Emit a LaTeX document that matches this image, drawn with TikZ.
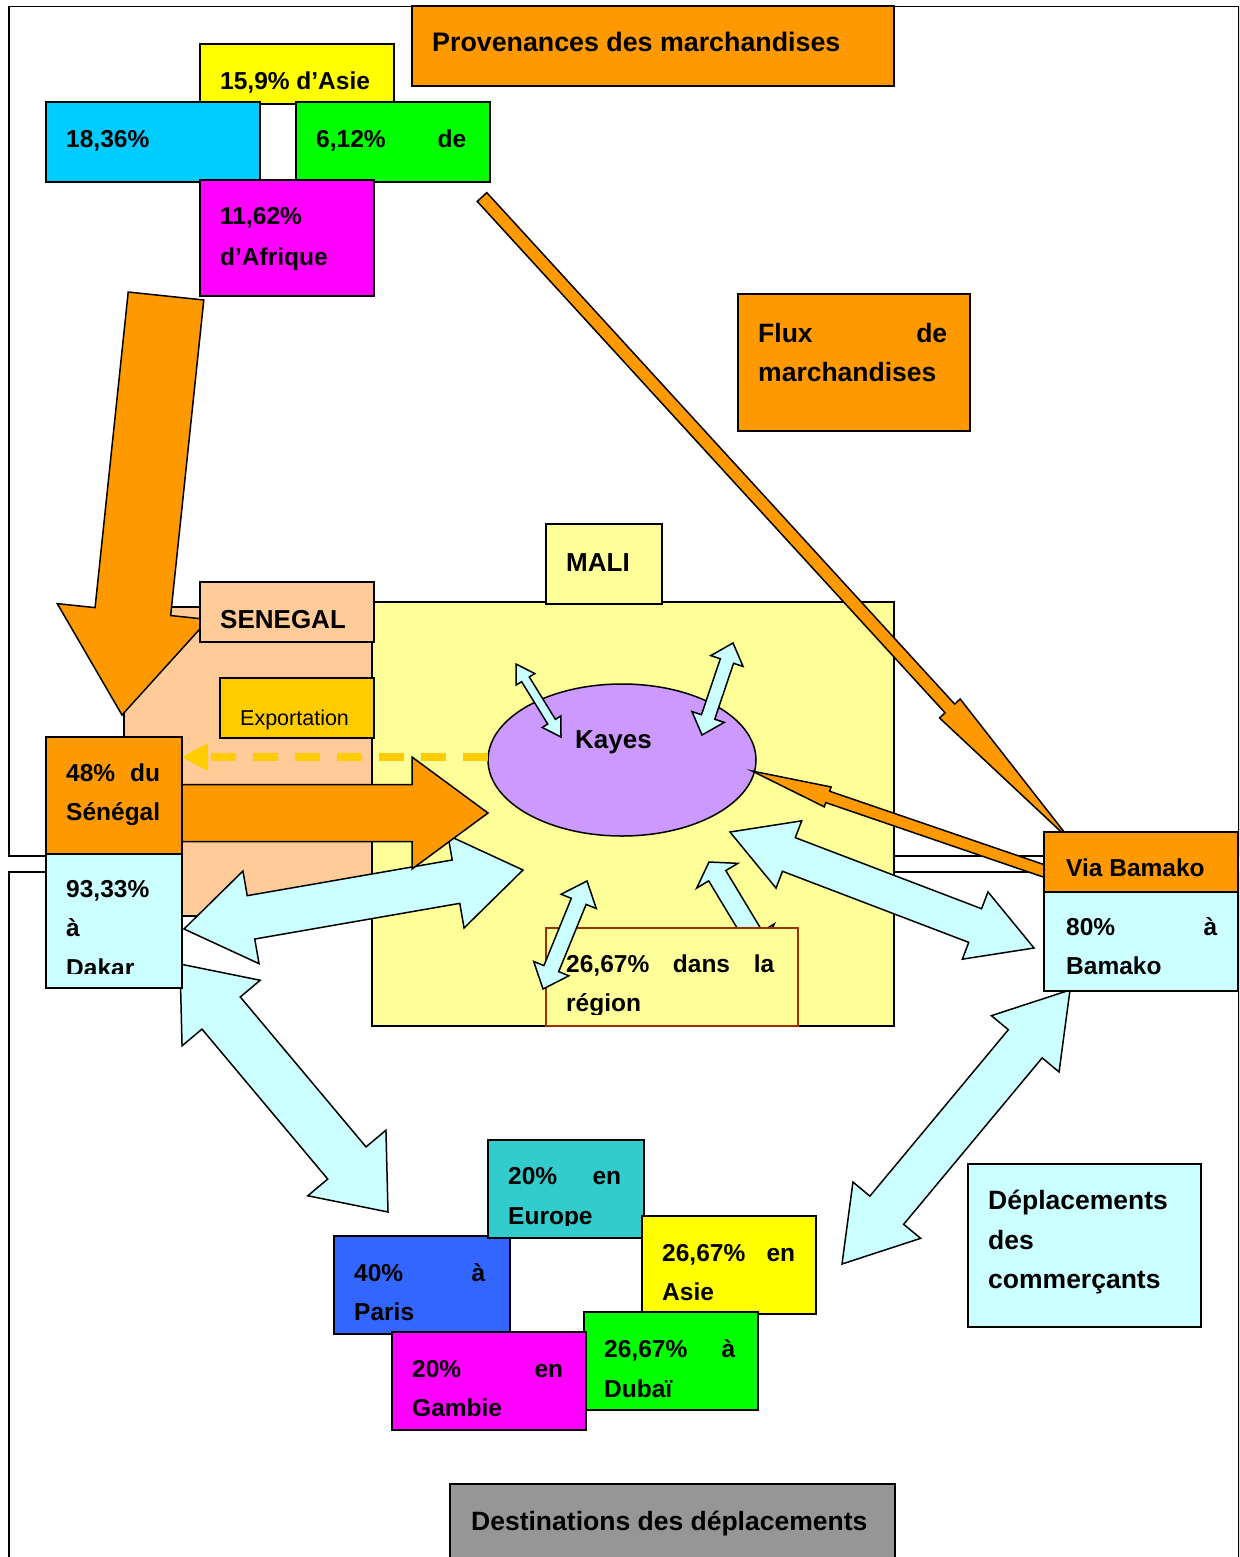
\documentclass[tikz,border=0pt]{standalone}
\usepackage{fontspec}
\setmainfont{Liberation Sans}
\usetikzlibrary{calc,shapes.geometric}
\definecolor{cOrange}{HTML}{FF9900}
\definecolor{cYellow}{HTML}{FFFF00}
\definecolor{cSky}{HTML}{00CCFF}
\definecolor{cGreen}{HTML}{00FF00}
\definecolor{cMagenta}{HTML}{FF00FF}
\definecolor{cPeach}{HTML}{FFCC99}
\definecolor{cLightYellow}{HTML}{FFFF99}
\definecolor{cGold}{HTML}{FFCC00}
\definecolor{cLightCyan}{HTML}{CCFFFF}
\definecolor{cLavender}{HTML}{CC99FF}
\definecolor{cTeal}{HTML}{33CCCC}
\definecolor{cBlue}{HTML}{3366FF}
\definecolor{cGray}{HTML}{969696}
\definecolor{cBrown}{HTML}{993300}
% double-headed block arrow: style, A, B, shaft half width, head half width, head length
\newcommand\dblarrow[6]{%
\draw[#1] ($(#2)!#6!(#3)!#5!90:(#3)$) -- (#2) -- ($(#2)!#6!(#3)!#5!-90:(#3)$)
 -- ($(#2)!#6!(#3)!#4!-90:(#3)$) -- ($(#3)!#6!(#2)!#4!90:(#2)$)
 -- ($(#3)!#6!(#2)!#5!90:(#2)$) -- (#3) -- ($(#3)!#6!(#2)!#5!-90:(#2)$)
 -- ($(#3)!#6!(#2)!#4!-90:(#2)$) -- ($(#2)!#6!(#3)!#4!90:(#3)$) -- cycle;}
% single block arrow: style, tail, tip, shaft half width, head half width, head length
\newcommand\sglarrow[6]{%
\draw[#1] ($(#2)!#4!90:(#3)$) -- ($(#3)!#6!(#2)!#4!-90:(#2)$)
 -- ($(#3)!#6!(#2)!#5!-90:(#2)$) -- (#3) -- ($(#3)!#6!(#2)!#5!90:(#2)$)
 -- ($(#3)!#6!(#2)!#4!90:(#2)$) -- ($(#2)!#4!-90:(#3)$) -- cycle;}
\begin{document}
\begin{tikzpicture}[x=1pt,y=-1pt,
  box/.style={draw=black, line width=1.8pt, rectangle, inner sep=0pt, outer sep=0pt, anchor=north west},
  sz/.style 2 args={minimum width=#1pt, minimum height=#2pt},
  lbl/.style={anchor=base west, inner sep=0pt, font=\fontsize{24.5pt}{30pt}\selectfont\bfseries},
  lblL/.style={anchor=base west, inner sep=0pt, font=\fontsize{26.5pt}{30pt}\selectfont\bfseries},
  lblR/.style={anchor=base west, inner sep=0pt, font=\fontsize{21.5pt}{26pt}\selectfont},
  orangearrow/.style={fill=cOrange, draw=black, line width=1.5pt},
  cyanarrow/.style={fill=cLightCyan, draw=black, line width=1.5pt},
  frame/.style={draw=black, line width=1.5pt, fill=white, rectangle, inner sep=0pt, anchor=north west}]
\clip (0,0) rectangle (1239,1557);
\fill[white] (0,0) rectangle (1239,1557);
% frames
\node[frame, sz={1230}{849}] (topframe) at (8,6) {};
\node[frame, sz={1230}{730}] (botframe) at (8,871) {};
% regions
\node[box, fill=cPeach, sz={248}{309}] (senregion) at (124,607) {};
\node[box, fill=cLightYellow, sz={522}{424}] (maliregion) at (372,602) {};
% Kayes
\node[draw=black, line width=1.5pt, ellipse, fill=cLavender, minimum width=268pt, minimum height=152pt, inner sep=0pt] (kayes) at (622,760) {};
% big cyan arrows
\coordinate (dkA) at (184,929); \coordinate (dkB) at (523,870);
\dblarrow{cyanarrow}{dkA}{dkB}{22pt}{47pt}{68pt}
\coordinate (kbA) at (730,832); \coordinate (kbB) at (1034,948);
\dblarrow{cyanarrow}{kbA}{kbB}{18pt}{36pt}{63pt}
\coordinate (deA) at (180,964); \coordinate (deB) at (388,1212);
\dblarrow{cyanarrow}{deA}{deB}{25pt}{51pt}{64pt}
\coordinate (baA) at (1070,990); \coordinate (baB) at (842,1264);
\dblarrow{cyanarrow}{baA}{baB}{22pt}{44pt}{70pt}
% small arrow under region box
\coordinate (s8A) at (709,862); \coordinate (s8B) at (762,950);
\dblarrow{cyanarrow}{s8A}{s8B}{10pt}{24pt}{16pt}
% region box
\node[box, draw=cBrown, line width=1.5pt, fill=cLightYellow, sz={252}{98}] (reg) at (546,928) {};
\node[lbl] (treg1) at (566,972) {\makebox[208pt][l]{26,67\%\hfill dans\hfill la}};
\begin{scope}
\clip (546,928) rectangle (798,1014);
\node[lbl] (treg2) at (566,1011) {région};
\end{scope}
% small cyan arrows
\coordinate (s5A) at (516,664); \coordinate (s5B) at (561,737);
\dblarrow{cyanarrow}{s5A}{s5B}{4.5pt}{11pt}{18pt}
\coordinate (s6A) at (733,643); \coordinate (s6B) at (702,735);
\dblarrow{cyanarrow}{s6A}{s6B}{7pt}{17pt}{19pt}
\coordinate (s7A) at (587,881); \coordinate (s7B) at (543,989);
\dblarrow{cyanarrow}{s7A}{s7B}{8pt}{19pt}{22pt}
% orange arrows
\coordinate (odT) at (166,296); \coordinate (odH) at (122,715);
\sglarrow{orangearrow}{odT}{odH}{38pt}{76pt}{104pt}
\coordinate (orT) at (182,813); \coordinate (orH) at (488,813);
\sglarrow{orangearrow}{orT}{orH}{28.5pt}{56pt}{76pt}
\coordinate (olT) at (482,197); \coordinate (olH) at (1072,842);
\sglarrow{orangearrow}{olT}{olH}{6.5pt}{14pt}{181pt}
\coordinate (obT) at (1050,873); \coordinate (obH) at (752,771);
\sglarrow{orangearrow}{obT}{obH}{6pt}{10.5pt}{80pt}
% dashed export arrow
\coordinate (exptip) at (182,757);
\draw[cGold, line width=8pt, dash pattern=on 25pt off 17pt] ($(kayes.west)+(1,-3)$) -- ($(exptip)+(26,0)$);
\fill[cGold] (exptip) -- ++(26,-14) -- ++(0,28) -- cycle;
% top boxes
\node[box, fill=cOrange, sz={482}{80}] (prov) at (412,6) {};
\node[lblL, font=\fontsize{26.8pt}{30pt}\selectfont\bfseries] (tprov) at (432,52) {Provenances des marchandises};
\node[box, fill=cYellow, sz={194}{60}] (basie) at (200,44) {};
\node[lbl] (tasie) at (220,90) {15,9\% d’Asie};
\node[box, fill=cSky, sz={214}{80}] (b1836) at (46,102) {};
\node[lbl] (t1836) at (66,148) {18,36\%};
\node[box, fill=cGreen, sz={194}{80}] (b612) at (296,102) {};
\node[lbl] (t612) at (316,148) {\makebox[150pt][l]{6,12\%\hfill de}};
\node[box, fill=cMagenta, sz={174}{116}] (bafr) at (200,180) {};
\node[lbl] (tafr1) at (220,224) {11,62\%};
\node[lbl] (tafr2) at (220,265) {d’Afrique};
\node[box, fill=cOrange, sz={232}{137}] (bflux) at (738,294) {};
\node[lblL] (tflux1) at (758,342) {\makebox[189pt][l]{Flux\hfill de}};
\node[lblL] (tflux2) at (758,381) {marchandises};
% labels of regions
\node[box, fill=cLightYellow, sz={116}{80}] (bmali) at (546,524) {};
\node[lblL, font=\fontsize{26pt}{30pt}\selectfont\bfseries] (tmali) at (566,571) {MALI};
\node[box, fill=cPeach, sz={174}{60}] (bsen) at (200,582) {};
\node[lblL, font=\fontsize{26pt}{30pt}\selectfont\bfseries] (tsen) at (220,628) {SENEGAL};
\node[box, fill=cGold, sz={154}{60}] (bexp) at (220,678) {};
\node[lblR] (texp) at (240,725) {Exportation};
\node[lblL, font=\fontsize{26pt}{30pt}\selectfont\bfseries] (tkayes) at (575,748) {Kayes};
% Senegal side
\node[box, fill=cOrange, sz={136}{117}] (b48) at (46,737) {};
\node[lbl] (t48a) at (66,781) {\makebox[94pt][l]{48\%\hfill du}};
\node[lbl] (t48b) at (66,820) {Sénégal};
\node[box, fill=cLightCyan, sz={136}{134}] (b93) at (46,854) {};
\node[lbl] (t93a) at (66,897) {93,33\%};
\node[lbl] (t93b) at (66,936) {à};
\begin{scope}
\clip (46,854) rectangle (182,973);
\node[lbl] (t93c) at (66,976) {Dakar};
\end{scope}
% Bamako side
\node[box, fill=cOrange, sz={194}{60}] (bvia) at (1044,832) {};
\node[lbl] (tvia) at (1066,876) {Via Bamako};
\node[box, fill=cLightCyan, sz={194}{99}] (b80) at (1044,892) {};
\node[lbl] (t80a) at (1066,935) {\makebox[151pt][l]{80\%\hfill à}};
\node[lbl] (t80b) at (1066,974) {Bamako};
% destinations
\node[box, fill=cBlue, sz={176}{98}] (bpar) at (334,1236) {};
\node[lbl] (tpar1) at (354,1281) {\makebox[131pt][l]{40\%\hfill à}};
\node[lbl] (tpar2) at (354,1320) {Paris};
\node[box, fill=cTeal, sz={156}{98}] (beur) at (488,1140) {};
\node[lbl] (teur1) at (508,1184) {\makebox[113pt][l]{20\%\hfill en}};
\begin{scope}
\clip (488,1140) rectangle (644,1225);
\node[lbl] (teur2) at (508,1224) {Europe};
\end{scope}
\node[box, fill=cYellow, sz={174}{98}] (basi) at (642,1216) {};
\node[lbl] (tasi1) at (662,1261) {\makebox[133pt][l]{26,67\%\hfill en}};
\node[lbl] (tasi2) at (662,1300) {Asie};
\node[box, fill=cGreen, sz={174}{98}] (bdub) at (584,1312) {};
\node[lbl] (tdub1) at (604,1357) {\makebox[131pt][l]{26,67\%\hfill à}};
\node[lbl] (tdub2) at (604,1397) {Dubaï};
\node[box, fill=cMagenta, sz={194}{98}] (bgam) at (392,1332) {};
\node[lbl] (tgam1) at (412,1377) {\makebox[151pt][l]{20\%\hfill en}};
\node[lbl] (tgam2) at (412,1416) {Gambie};
% legends
\node[box, fill=cLightCyan, sz={233}{163}] (bdep) at (968,1164) {};
\node[lblL] (tdep1) at (988,1209) {Déplacements};
\node[lblL] (tdep2) at (988,1249) {des};
\node[lblL] (tdep3) at (988,1288) {commerçants};
\node[box, fill=cGray, sz={445}{100}] (bdest) at (450,1484) {};
\node[lblL] (tdest) at (471,1530) {Destinations des déplacements};
\end{tikzpicture}
\end{document}
